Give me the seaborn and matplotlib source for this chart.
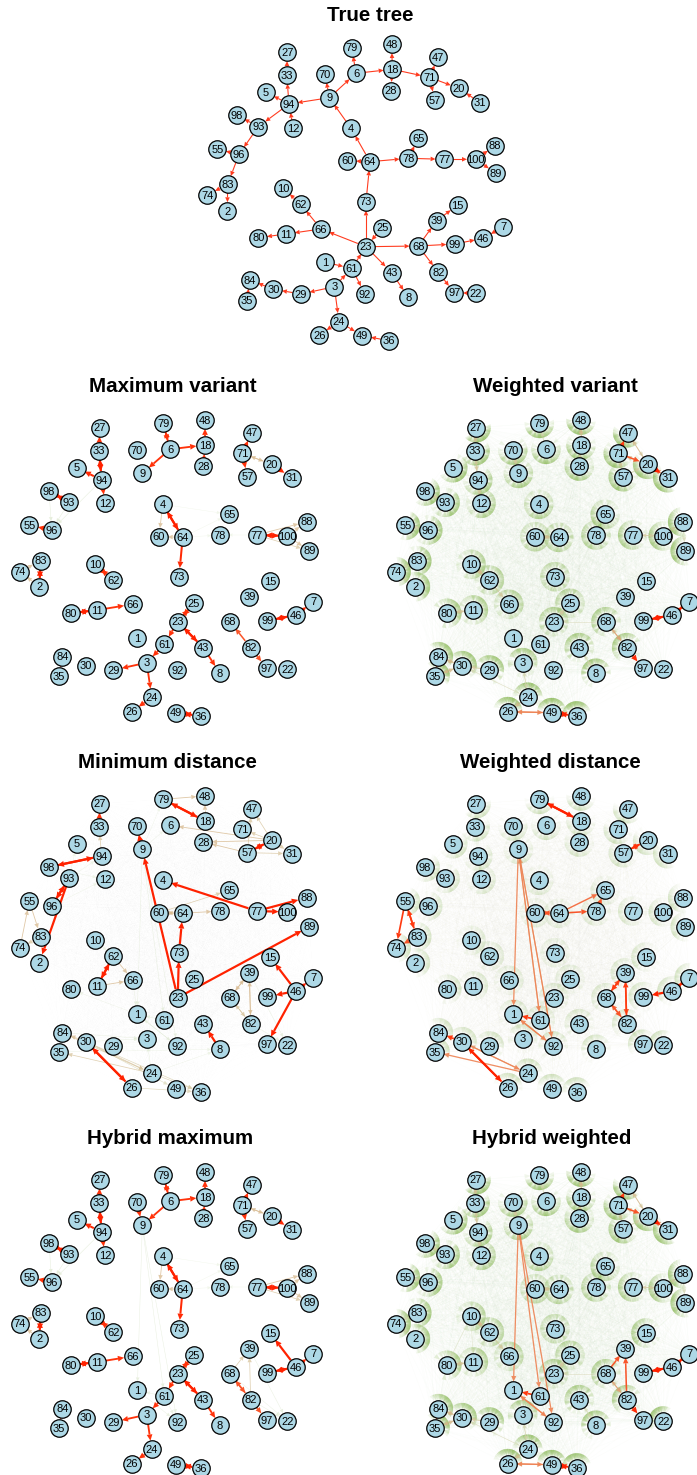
import numpy as np
import pandas as pd
import matplotlib.pyplot as plt
import seaborn as sns
from matplotlib.collections import LineCollection, PolyCollection
from matplotlib.colors import LinearSegmentedColormap
from matplotlib.patches import Polygon

sns.set_style("white")
plt.rcParams["font.family"] = ["Liberation Sans", "DejaVu Sans"]

# -------------------------------------------------
# Data: node ids and the two layouts
# -------------------------------------------------
node_ids = [27, 33, 5, 94, 12, 98, 93, 55, 96,
            79, 70, 6, 9, 48, 18, 28,
            47, 71, 20, 57, 31,
            4, 65, 88, 60, 64, 78, 77, 100, 89,
            83, 74, 2, 10, 62, 73,
            15, 39, 7, 25, 80, 11, 66, 99, 46, 23, 68,
            1, 61, 43, 82,
            84, 30, 29, 3, 92, 8, 97, 22, 35,
            24, 26, 49, 36]

layout_x = [100.0, 99.0, 76.7, 101.7, 105.0, 49.0, 69.0, 29.3, 51.7,
            163.3, 136.7, 170.0, 142.3, 205.0, 205.0, 203.3,
            251.7, 242.3, 271.7, 247.3, 291.7,
            162.7, 229.3, 306.7, 159.0, 182.7, 220.0, 256.7, 287.3, 309.3,
            40.7, 20.0, 39.3, 95.0, 113.3, 179.0,
            270.0, 249.3, 313.3, 194.0, 70.7, 97.3, 132.7, 267.3, 296.0, 177.7, 230.0,
            137.3, 164.3, 203.3, 250.7,
            62.3, 86.0, 113.3, 146.7, 177.3, 220.0, 266.7, 287.3, 59.0,
            151.7, 131.7, 175.7, 200.7]
layout_y = [27.7, 50.7, 67.7, 80.0, 103.3, 91.0, 102.3, 125.3, 130.0,
            23.3, 50.0, 49.3, 73.3, 20.0, 45.0, 66.0,
            32.7, 53.3, 64.3, 76.7, 77.7,
            104.3, 114.3, 121.7, 136.7, 137.3, 135.0, 135.0, 136.0, 150.7,
            160.7, 171.7, 186.7, 164.3, 180.0, 176.7,
            181.0, 196.7, 201.7, 203.3, 213.3, 210.0, 204.3, 220.7, 215.0, 221.7, 221.7,
            238.3, 244.3, 247.7, 247.7,
            256.7, 265.7, 270.0, 262.7, 270.0, 273.3, 268.3, 269.0, 276.0,
            297.3, 311.7, 312.7, 316.0]

tree_x = [97.3, 96.7, 76.0, 99.0, 103.3, 46.7, 68.3, 27.3, 49.0,
          161.7, 135.0, 166.0, 139.3, 201.7, 202.3, 201.0,
          248.3, 239.3, 269.0, 245.0, 290.0,
          161.0, 228.3, 305.0, 157.3, 180.0, 218.3, 254.3, 285.7, 306.0,
          37.7, 17.3, 37.3, 93.3, 110.7, 176.0,
          267.7, 246.7, 313.3, 192.3, 68.3, 96.0, 131.0, 265.0, 293.3, 176.0, 228.3,
          135.0, 161.7, 201.7, 248.3,
          60.0, 83.3, 111.0, 144.3, 175.0, 218.3, 264.3, 285.7, 56.7,
          149.0, 129.3, 172.3, 199.0]
tree_y = [22.3, 45.0, 62.3, 74.0, 98.3, 85.0, 96.7, 119.3, 124.3,
          17.7, 44.0, 43.3, 67.7, 14.3, 39.3, 60.7,
          27.3, 47.3, 58.3, 70.0, 72.7,
          98.3, 108.3, 115.7, 130.7, 131.7, 128.3, 129.3, 129.3, 143.3,
          154.3, 165.0, 181.0, 158.3, 174.3, 171.7,
          175.0, 190.7, 196.7, 197.7, 207.7, 204.0, 199.0, 214.0, 208.3, 216.7, 216.0,
          232.3, 238.3, 242.7, 242.3,
          250.0, 259.3, 264.0, 256.7, 264.0, 267.3, 262.7, 263.3, 270.7,
          291.7, 305.0, 305.7, 310.7]

# -------------------------------------------------
# Data: edges (source, target[, weight])
# -------------------------------------------------
true_edges = [(23, 73), (73, 64), (64, 4), (4, 9), (9, 70), (9, 6), (9, 94), (6, 79),
              (6, 18), (18, 48), (18, 28), (18, 71), (71, 47), (71, 57), (71, 20),
              (31, 20), (94, 33), (33, 27), (94, 5), (12, 94), (94, 93), (93, 98),
              (93, 96), (96, 55), (96, 83), (83, 74), (83, 2), (64, 60), (64, 78),
              (78, 65), (78, 77), (77, 100), (100, 88), (100, 89), (23, 66), (66, 62),
              (62, 10), (66, 11), (11, 80), (25, 23), (23, 68), (68, 39), (39, 15),
              (68, 99), (99, 46), (7, 46), (68, 82), (82, 97), (22, 97), (23, 43),
              (43, 8), (61, 23), (1, 61), (61, 92), (3, 61), (3, 29), (29, 30),
              (30, 84), (35, 84), (3, 24), (24, 26), (24, 49), (36, 49)]

max_variant_edges = [
    (33, 27, .9), (33, 94, 1), (94, 33, 1), (94, 5, .95), (94, 12, .9), (98, 93, 1),
    (93, 98, 1), (94, 96, .25), (98, 96, .25), (93, 96, .25), (96, 55, .9),
    (6, 79, .9), (79, 6, .9), (6, 9, .9), (6, 18, .9), (18, 48, .9), (28, 18, .85),
    (71, 47, .9), (71, 57, .9), (71, 20, .5), (20, 71, .5), (20, 31, .95),
    (4, 64, 1), (64, 4, 1), (4, 60, .5), (64, 60, .5), (64, 73, .95),
    (4, 65, .12), (64, 65, .12), (64, 78, .12), (77, 78, .12),
    (77, 100, 1), (100, 77, 1), (77, 88, .5), (100, 88, .5), (100, 89, .5), (77, 89, .45),
    (83, 2, 1), (2, 83, 1), (74, 83, .5), (2, 74, .5),
    (10, 62, .9), (62, 10, .9), (80, 11, 1), (11, 80, 1), (11, 66, .9),
    (23, 25, .9), (25, 23, .9), (23, 61, .9), (61, 3, .9), (23, 43, 1), (43, 23, 1),
    (43, 8, .9), (3, 29, .9), (3, 24, .9), (24, 26, .9),
    (82, 68, .8), (82, 97, .8), (99, 46, 1), (46, 99, 1), (46, 7, .95),
    (84, 35, .9), (49, 36, 1), (36, 49, 1)]

weighted_variant_edges = [
    (71, 47, .85), (20, 47, .5), (47, 20, .4), (71, 20, .8), (20, 71, .5), (20, 31, 1),
    (31, 20, .7), (57, 20, .4), (99, 46, 1), (46, 99, 1), (46, 7, 1), (7, 46, .8),
    (68, 82, .6), (82, 68, .5), (82, 97, .95), (26, 49, .7), (49, 26, .7), (49, 36, 1),
    (36, 49, .9), (84, 35, .9), (30, 84, .5), (30, 35, .5), (84, 30, .5), (35, 30, .5),
    (29, 30, .45), (24, 30, .35), (24, 26, .5), (18, 48, .5), (48, 18, .45), (28, 18, .45),
    (18, 28, .4), (27, 33, .45), (33, 27, .45), (10, 62, .5), (62, 10, .45), (62, 66, .45),
    (11, 80, .45), (80, 11, .45), (23, 25, .4), (25, 23, .4), (68, 23, .35), (71, 57, .45),
    (64, 60, .45), (60, 64, .45), (100, 77, .4), (77, 100, .4), (100, 88, .4), (88, 89, .35),
    (83, 74, .35), (2, 74, .35), (55, 96, .35), (96, 55, .35), (33, 94, .45), (94, 33, .4),
    (94, 12, .4), (12, 94, .4), (93, 98, .4), (98, 93, .35), (9, 70, .4), (70, 9, .4),
    (6, 79, .35), (43, 8, .35), (8, 43, .3), (3, 61, .3), (24, 3, .35), (3, 24, .35)]

min_distance_edges = [
    (79, 18, 1), (18, 79, 1), (94, 98, 1), (98, 94, 1), (93, 96, 1), (96, 93, 1),
    (93, 2, 1), (33, 27, .9), (9, 70, 1), (23, 9, 1), (23, 73, 1), (73, 64, 1),
    (77, 4, 1), (77, 88, 1), (77, 100, 1), (23, 89, 1), (57, 20, 1), (20, 57, 1),
    (62, 11, 1), (11, 62, 1), (46, 15, 1), (46, 7, 1), (46, 99, 1), (46, 97, 1),
    (8, 43, 1), (30, 26, 1), (26, 30, 1),
    (79, 48, .5), (18, 48, .5), (20, 6, .5), (57, 47, .45), (20, 47, .45), (20, 71, .45),
    (20, 28, .5), (57, 28, .5), (57, 31, .45), (20, 31, .45), (94, 33, .45),
    (64, 60, .5), (60, 64, .5), (60, 65, .45), (64, 78, .5), (74, 55, .5), (55, 83, .5),
    (83, 74, .45), (62, 66, .5), (11, 66, .5), (39, 68, .5), (68, 39, .5), (39, 82, .5),
    (82, 39, .5), (68, 82, .45), (82, 68, .45), (30, 84, .5), (30, 24, .45), (84, 24, .45),
    (24, 35, .45), (30, 36, .4), (26, 36, .4), (24, 36, .4), (30, 49, .35),
    (9, 1, .2), (9, 61, .2), (9, 92, .2), (66, 1, .2), (61, 1, .2), (92, 1, .2),
    (1, 80, .15), (1, 92, .2), (30, 3, .2), (84, 3, .2), (35, 8, .15), (24, 3, .2),
    (24, 8, .15), (39, 22, .2), (82, 22, .2), (93, 5, .15), (96, 12, .15), (98, 12, .15),
    (9, 6, .12), (9, 79, .12), (10, 62, .15), (93, 94, .15)]

weighted_distance_edges = [
    (79, 18, 1), (18, 79, 1), (55, 74, .85), (55, 83, .85), (83, 55, .85), (83, 74, .8),
    (64, 65, .75), (78, 65, .8), (64, 60, .8), (60, 64, .75), (64, 78, .8),
    (9, 1, .7), (9, 61, .7), (9, 92, .7), (61, 9, .6), (92, 9, .6), (61, 1, .85),
    (92, 1, .7), (1, 92, .7), (57, 20, .9), (20, 57, .9), (39, 68, .85), (68, 39, .8),
    (82, 39, .85), (39, 82, .8), (68, 82, .8), (82, 68, .75), (46, 99, 1), (46, 7, .95),
    (7, 46, .9), (30, 84, .85), (30, 26, 1), (26, 30, .9), (30, 24, .7), (24, 30, .6),
    (24, 35, .7)]

hybrid_max_edges = max_variant_edges + [
    (70, 9, .9), (46, 15, 1), (68, 82, .8), (68, 39, .45), (82, 39, .45),
    (9, 1, .22), (9, 61, .22), (9, 92, .22), (61, 1, .2), (1, 92, .2), (61, 92, .2),
    (39, 22, .22), (82, 22, .22), (68, 22, .2)]

hybrid_weighted_edges = weighted_variant_edges + [
    (9, 1, .7), (9, 61, .7), (9, 92, .7), (61, 1, .85), (92, 1, .7), (1, 92, .7),
    (68, 39, .8), (82, 39, .8), (10, 80, .3), (10, 11, .3), (62, 11, .3)]

weighted_no_halo = [15, 39, 1, 61, 92, 22, 7, 46, 99, 97]
hybrid_no_halo = [1, 61, 92, 7, 46, 99, 39, 97]

# -------------------------------------------------
# Helpers
# -------------------------------------------------
edge_cmap = LinearSegmentedColormap.from_list(
    "edge_w", [(0.0, "#eef5e6"), (0.25, "#d3e1c0"), (0.5, "#d6b88c"),
               (0.7, "#ee8455"), (0.85, "#ff3a10"), (1.0, "#ff2200")])
R = 8.7          # node radius in pixels (1 data unit = 1 px)
PT = 72 / 100    # px -> points


def add_panel(fig, left, top, w, h):
    ax = fig.add_axes([left / 697, 1 - (top + h) / 1475, w / 697, h / 1475])
    return ax


def edge_shapes(p, q, head=6.0, half=2.6):
    d = q - p
    u = d / np.hypot(*d)
    n = np.array([-u[1], u[0]])
    start = p + u * R
    tip = q - u * R
    base = tip - u * head
    return [start, base], [tip, base + n * half, base - n * half]


def draw_edge(ax, p, q, color, alpha, lw_px, head, half, z=3):
    seg, tri = edge_shapes(p, q, head, half)
    ax.plot([seg[0][0], seg[1][0]], [seg[0][1], seg[1][1]], color=color, alpha=alpha,
            lw=lw_px * PT, solid_capstyle="butt", zorder=z)
    ax.add_patch(Polygon(tri, closed=True, facecolor=color, alpha=alpha, lw=0, zorder=z))


def draw_nodes(ax, xs, ys, w, h):
    df = pd.DataFrame({"node": node_ids, "x": xs, "y": ys})
    sns.scatterplot(data=df, x="x", y="y", s=158, color="#add8e6", edgecolor="black",
                    linewidth=0.9, ax=ax, zorder=5, legend=False)
    for n, x, y in zip(node_ids, xs, ys):
        ax.text(x, y + 0.6, str(n), ha="center", va="center", fontsize=8,
                color="black", zorder=6)
    ax.set_xlim(0, w)
    ax.set_ylim(h, 0)
    ax.set_axis_off()


def draw_network(ax, edges, halo_nodes=(), halo_alpha=0.0, haze_alpha=0.0):
    pos = {n: np.array([x, y]) for n, x, y in zip(node_ids, layout_x, layout_y)}
    if haze_alpha > 0:
        segs = [[pos[a], pos[b]] for i, a in enumerate(node_ids) for b in node_ids[i + 1:]]
        ax.add_collection(LineCollection(segs, colors=[(0.6, 0.75, 0.45, haze_alpha)],
                                         linewidths=0.4, zorder=1))
    if halo_alpha > 0:
        tris = []
        for t in halo_nodes:
            for s in node_ids:
                if s != t:
                    tris.append(edge_shapes(pos[s], pos[t], head=6.0, half=2.4)[1])
        ax.add_collection(PolyCollection(tris, facecolors=[(0.52, 0.72, 0.30, halo_alpha)],
                                         edgecolors="none", zorder=2))
    for s, t, wt in sorted(edges, key=lambda e: e[2]):
        wt = float(wt)
        draw_edge(ax, pos[s], pos[t], edge_cmap(wt), min(1.0, 0.35 + 0.8 * wt),
                  0.4 + 1.8 * wt ** 2, 3.5 + 3.0 * wt, 1.5 + 1.5 * wt)


# -------------------------------------------------
# Figure
# -------------------------------------------------
fig = plt.figure(figsize=(6.97, 14.75), dpi=100)
title_kw = dict(ha="center", va="baseline", fontsize=14.8, fontweight="bold",
                color="black", clip_on=False)

# true tree
ax = add_panel(fig, 190, 30, 340, 320)
tpos = {n: np.array([x, y]) for n, x, y in zip(node_ids, tree_x, tree_y)}
for s, t in true_edges:
    draw_edge(ax, tpos[s], tpos[t], "#ff3b1f", 1.0, 1.1, 5.0, 2.3)
draw_nodes(ax, tree_x, tree_y, 340, 320)
ax.text(180.7, -9.2, "True tree", **title_kw)

all_ids = node_ids
panels = [
    ("Maximum variant", 0, 400, 172.5, max_variant_edges, (), 0.0, 0.0),
    ("Weighted variant", 376, 400, 179.4, weighted_variant_edges,
     [n for n in all_ids if n not in weighted_no_halo], 0.11, 0.022),
    ("Minimum distance", 0, 776, 167.5, min_distance_edges, (), 0.0, 0.005),
    ("Weighted distance", 376, 776, 174.3, weighted_distance_edges, all_ids, 0.03, 0.01),
    ("Hybrid maximum", 0, 1152, 170.0, hybrid_max_edges, (), 0.0, 0.0),
    ("Hybrid weighted", 376, 1152, 175.2, hybrid_weighted_edges,
     [n for n in all_ids if n not in hybrid_no_halo], 0.10, 0.022),
]
for title, left, top, tx, edges, halo, halo_a, haze_a in panels:
    ax = add_panel(fig, left, top, 340, 340)
    draw_network(ax, edges, halo, halo_a, haze_a)
    draw_nodes(ax, layout_x, layout_y, 340, 340)
    ax.text(tx, -8.2, title, **title_kw)

fig.savefig("out.png", dpi=100)
